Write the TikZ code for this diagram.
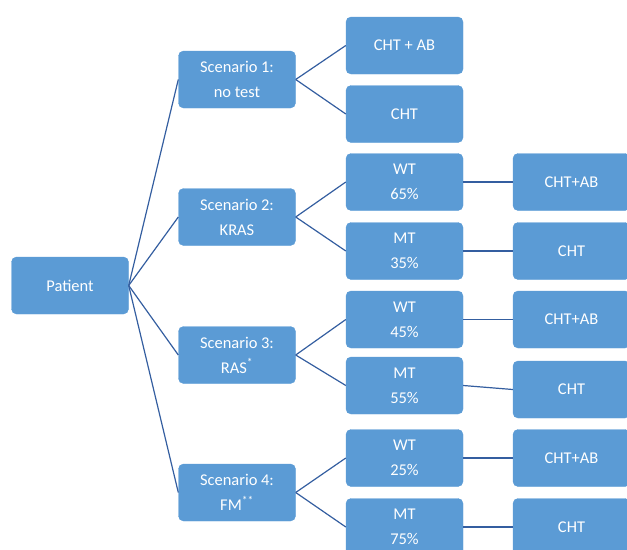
\documentclass[tikz,border=0pt]{standalone}
\usepackage{fontspec}
\setmainfont{Carlito}
\usepackage{tikz}
\usetikzlibrary{shapes}
\definecolor{boxblue}{RGB}{91,155,213}
\definecolor{lineblue}{RGB}{52,94,160}

\begin{document}
\begin{tikzpicture}[box/.style={draw=boxblue,fill=boxblue,rounded corners=5bp,minimum width=117bp,minimum height=57bp,inner sep=0pt,align=center,text=white,font=\fontsize{16.5}{25}\selectfont},
  link/.style={draw=lineblue,line width=1.2bp}]
\useasboundingbox (0bp,0bp) rectangle (627bp,-550bp);

\node (P) at (70bp,-285.5bp)[box] {Patient};
\node (S1) at (237bp,-79.5bp)[box] {Scenario 1:\\no test};
\node (S2) at (237bp,-217bp)[box] {Scenario 2:\\KRAS};
\node (S3) at (237bp,-355bp)[box] {Scenario 3:\\RAS\textsuperscript{*}};
\node (S4) at (237bp,-492.5bp)[box] {Scenario 4:\\FM\textsuperscript{**}};
\node (A1) at (404.5bp,-45.5bp)[box] {CHT + AB};
\node (A2) at (404.5bp,-114bp)[box] {CHT};
\node (B1) at (404.5bp,-182bp)[box] {WT\\65\%};
\node (B2) at (404.5bp,-251bp)[box] {MT\\35\%};
\node (C1) at (404.5bp,-319.5bp)[box] {WT\\45\%};
\node (C2) at (404.5bp,-385.5bp)[box] {MT\\55\%};
\node (D1) at (404.5bp,-458bp)[box] {WT\\25\%};
\node (D2) at (404.5bp,-527bp)[box] {MT\\75\%};
\node (B3) at (571.5bp,-182bp)[box] {CHT+AB};
\node (B4) at (571.5bp,-251bp)[box] {CHT};
\node (C3) at (571.5bp,-319.5bp)[box] {CHT+AB};
\node (C4) at (571.5bp,-389.5bp)[box] {CHT};
\node (D3) at (571.5bp,-458bp)[box] {CHT+AB};
\node (D4) at (571.5bp,-527bp)[box] {CHT};
\foreach \s in {S1,S2,S3,S4}
  \draw [link] (P.east) -- (\s.west);
\draw [link] (S1.east) -- (A1.west);
\draw [link] (S1.east) -- (A2.west);
\draw [link] (S2.east) -- (B1.west);
\draw [link] (S2.east) -- (B2.west);
\draw [link] (S3.east) -- (C1.west);
\draw [link] (S3.east) -- (C2.west);
\draw [link] (S4.east) -- (D1.west);
\draw [link] (S4.east) -- (D2.west);
\draw [link] (B1.east) -- (B3.west);
\draw [link] (B2.east) -- (B4.west);
\draw [link] (C1.east) -- (C3.west);
\draw [link] (C2.east) -- (C4.west);
\draw [link] (D1.east) -- (D3.west);
\draw [link] (D2.east) -- (D4.west);
\end{tikzpicture}
\end{document}
